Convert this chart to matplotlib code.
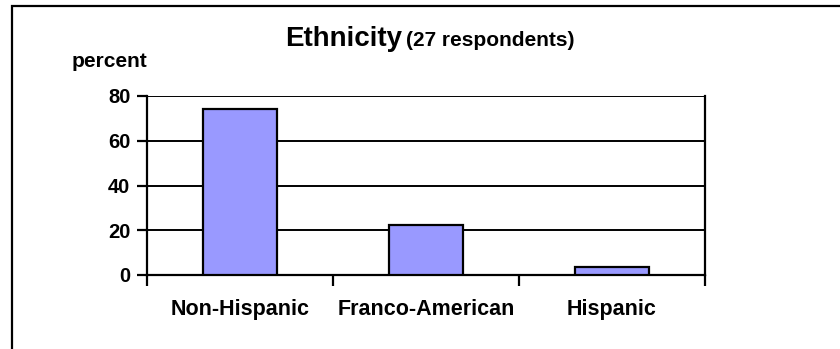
import matplotlib.pyplot as plt
from matplotlib.patches import Rectangle
import numpy as np

plt.rcParams['font.family'] = ['Liberation Sans', 'DejaVu Sans']
plt.rcParams['font.weight'] = 'bold'

# survey results, percent of respondents
categories = ['Non-Hispanic', 'Franco-American', 'Hispanic']
percents = [74.1, 22.2, 3.7]
y_ticks = [0, 20, 40, 60, 80]

W, H = 840, 349
fig = plt.figure(figsize=(W / 100, H / 100), dpi=100)

# chart border (runs off the right and bottom edges)
fig.patches.append(Rectangle((11.5 / W, -0.1), 1.2, 1 - 5.5 / H + 0.1,
                             transform=fig.transFigure, fill=False,
                             edgecolor='black', linewidth=1.6, clip_on=False))

ax = fig.add_axes([147 / W, 1 - 275 / H, (705 - 147) / W, (275 - 96) / H])

x = np.arange(len(categories))
ax.bar(x, percents, width=0.4, color='#9999ff', edgecolor='black',
       linewidth=1.6, zorder=3)

ax.set_xlim(-0.5, len(categories) - 0.5)
ax.set_ylim(0, 80)
ax.set_yticks(y_ticks)
ax.set_yticklabels([str(v) for v in y_ticks], fontsize=14.5, fontweight='bold')
ax.tick_params(axis='y', length=7, width=1.6, pad=5)
ax.yaxis.grid(True, color='black', linewidth=1.4, zorder=0)

# category labels at bar centres, ticks at category boundaries
ax.set_xticks(x)
ax.set_xticklabels(categories, fontsize=15.5, fontweight='bold')
ax.tick_params(axis='x', which='major', length=0, pad=17)
ax.set_xticks(np.arange(len(categories) + 1) - 0.5, minor=True)
ax.tick_params(axis='x', which='minor', length=8, width=1.6, direction='out')

for side in ['left', 'bottom', 'right', 'top']:
    ax.spines[side].set_linewidth(1.6)
ax.spines['top'].set_visible(False)

fig.text(402 / W, 1 - 46 / H, 'Ethnicity', fontsize=20, fontweight='bold',
         ha='right', va='baseline')
fig.text(406 / W, 1 - 46 / H, '(27 respondents)', fontsize=15,
         fontweight='bold', ha='left', va='baseline')
fig.text(147 / W, 1 - 67 / H, 'percent', fontsize=15, fontweight='bold',
         ha='right', va='baseline')

fig.savefig('out.png', dpi=100)
